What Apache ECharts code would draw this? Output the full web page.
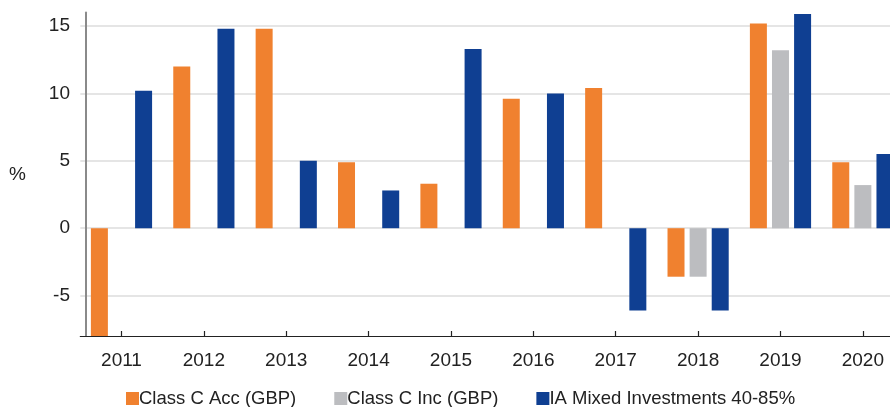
<!DOCTYPE html>
<html><head><meta charset="utf-8">
<script src="https://cdn.jsdelivr.net/npm/echarts@6/dist/echarts.min.js"></script>
<style>html,body{margin:0;padding:0;background:#fff}#c{width:890px;height:407px}</style>
</head><body><div id="c"></div>
<script>
const years = ['2011','2012','2013','2014','2015','2016','2017','2018','2019','2020'];
const classCAcc = [-8.6, 12.0, 14.8, 4.9, 3.3, 9.6, 10.4, -3.6, 15.2, 4.9];
const classCInc = [null, null, null, null, null, null, null, -3.6, 13.2, 3.2];
const iaMixed = [10.2, 14.8, 5.0, 2.8, 13.3, 10.0, -6.1, -6.1, 15.9, 5.5];
const seriesNames = ['Class C Acc (GBP)', 'Class C Inc (GBP)', 'IA Mixed Investments 40-85%'];
const seriesColors = ['#F0812F', '#BCBDC0', '#0F3F92'];
const yMin = -8, yMax = 16;

const font = '"Liberation Sans", Arial, sans-serif';
const chart = echarts.init(document.getElementById('c'), null, {renderer: 'canvas'});
const dataSets = [classCAcc, classCInc, iaMixed];
chart.setOption({
  animation: false,
  textStyle: {fontFamily: font},
  grid: {left: 80.3, width: 823.75, top: 12.6, bottom: 71, containLabel: false, outerBoundsMode: 'none'},
  legend: {
    left: 121, top: 384,
    itemWidth: 13, itemHeight: 13, itemGap: 38,
    icon: 'rect',
    textStyle: {fontFamily: font, fontSize: 18.5, color: '#222', padding: [0, 0, 0, -5]},
    data: seriesNames
  },
  xAxis: {
    type: 'category',
    data: years,
    axisLine: {onZero: false, lineStyle: {color: '#222', width: 1.2}},
    axisTick: {show: true, alignWithLabel: true, inside: true, length: 5, lineStyle: {color: '#222', width: 1.2}},
    axisLabel: {fontFamily: font, fontSize: 19, color: '#222', margin: 15},
    splitLine: {show: false}
  },
  yAxis: {
    type: 'value',
    min: yMin, max: yMax,
    offset: -5.7,
    name: '%',
    nameLocation: 'middle',
    nameRotate: 0,
    nameGap: 60,
    nameTextStyle: {fontFamily: font, fontSize: 19, color: '#222'},
    axisLine: {show: true, lineStyle: {color: '#8a8a8a', width: 2}},
    axisTick: {show: false},
    axisLabel: {fontFamily: font, fontSize: 19, color: '#222', margin: 16, showMinLabel: false, showMaxLabel: false},
    splitLine: {show: true, showMinLine: false, showMaxLine: false, lineStyle: {color: '#dcdcdc', width: 1.6}}
  },
  series: dataSets.map((d, i) => ({
    name: seriesNames[i],
    type: 'bar',
    data: d,
    barWidth: 17,
    barGap: '30%',
    itemStyle: {color: seriesColors[i]}
  }))
});
</script></body></html>
